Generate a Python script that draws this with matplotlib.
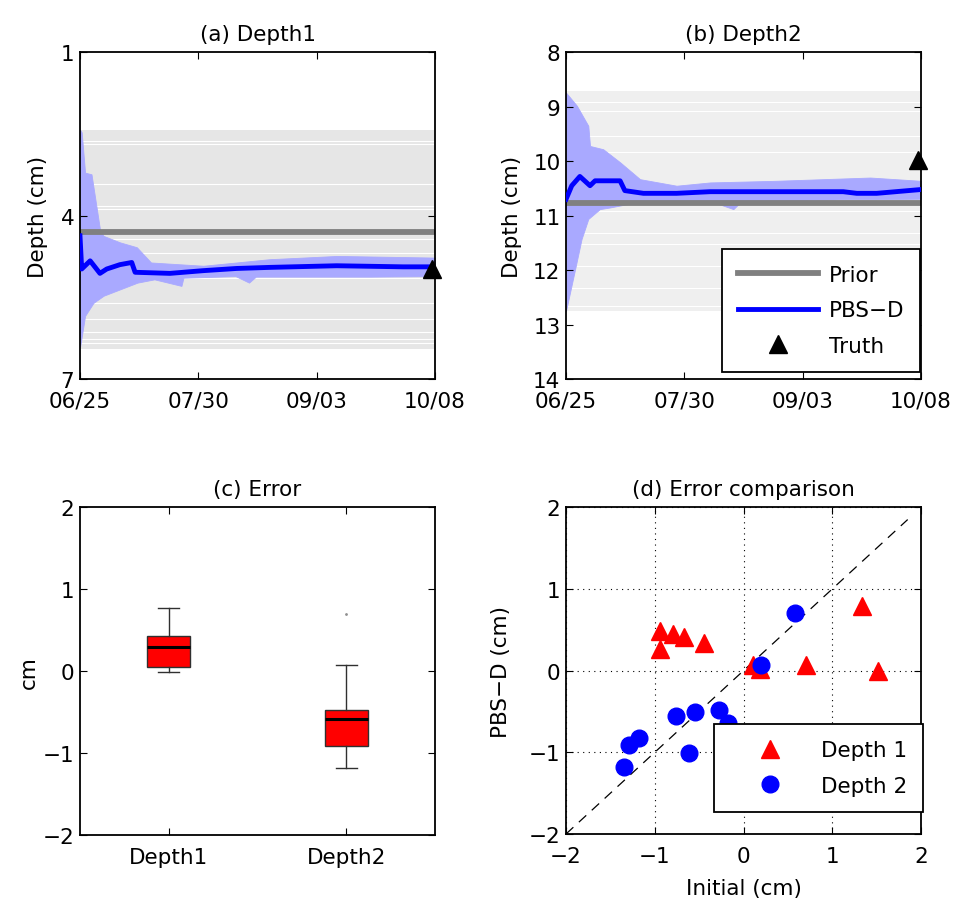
import matplotlib
matplotlib.use("Agg")
import matplotlib.pyplot as plt
import numpy as np

plt.rcParams["font.family"] = ["DejaVu Sans"]

# ---- time axis (days since 06/25) ----
date_ticks = [0, 35, 70, 105]
date_labels = ["06/25", "07/30", "09/03", "10/08"]

# ---- (a) Depth1 ----
a_prior = 4.30
a_prior_range = [2.42, 6.44]
a_prior_gaps = [2.62, 2.69, 3.42, 3.82, 3.88, 4.42, 4.68, 5.15, 5.60, 5.90, 6.14, 6.26, 6.33]
a_mean_day = [0, 0.5, 1.0, 3.0, 5.9, 7.9, 11.8, 15.3, 16.3, 26.6, 36.5, 46.3, 56.2, 75.9, 95.6, 105]
a_mean = [4.37, 4.98, 4.95, 4.83, 5.06, 4.98, 4.90, 4.86, 5.04, 5.06, 5.01, 4.97, 4.95, 4.92, 4.94, 4.94]
a_up_day = [0, 0.5, 1.5, 3.4, 5.9, 6.9, 11.8, 16.8, 21, 36.5, 56, 76, 105]
a_up = [2.42, 2.47, 3.21, 3.24, 4.25, 4.37, 4.49, 4.58, 4.86, 4.92, 4.80, 4.74, 4.77]
a_lo_day = [0, 1.5, 4, 7, 12, 17, 22, 30, 30.6, 46, 50, 52, 66, 86, 105]
a_lo = [6.42, 5.84, 5.60, 5.47, 5.35, 5.23, 5.17, 5.29, 5.14, 5.11, 5.23, 5.12, 5.12, 5.12, 5.11]
a_truth_day, a_truth = 104, 4.98

# ---- (b) Depth2 ----
b_prior = 10.77
b_prior_range = [8.71, 12.75]
b_prior_gaps = [8.92, 9.07, 9.53, 9.84, 10.91, 11.31, 11.52, 11.92, 12.32, 12.66]
b_mean_day = [0, 1.7, 4.1, 7.1, 8.6, 13, 16, 17.4, 22.9, 32.7, 42.6, 62.3, 82, 86, 91.9, 105]
b_mean = [10.70, 10.45, 10.28, 10.45, 10.36, 10.36, 10.36, 10.54, 10.59, 10.59, 10.56, 10.56, 10.56, 10.59, 10.59, 10.52]
b_up_day = [0, 3.2, 6.6, 7.1, 11, 16, 21.9, 32.7, 42.6, 62, 90, 105]
b_up = [8.74, 8.98, 9.35, 9.72, 9.78, 10.02, 10.33, 10.45, 10.39, 10.36, 10.30, 10.36]
b_lo_day = [0, 2.7, 4.6, 6.6, 10, 13, 22.9, 42.6, 49.5, 52, 82, 105]
b_lo = [12.75, 11.98, 11.43, 11.06, 10.88, 10.85, 10.73, 10.73, 10.88, 10.73, 10.70, 10.69]
b_truth_day, b_truth = 104, 9.97

# ---- (c) Error boxplot ----
box_names = ["Depth1", "Depth2"]
box_whislo = [-0.01, -1.18]
box_q1 = [0.05, -0.91]
box_med = [0.29, -0.59]
box_q3 = [0.43, -0.48]
box_whishi = [0.77, 0.07]
box_fliers = [[], [0.70]]

# ---- (d) Error comparison ----
d1_init = [-0.94, -0.79, -0.67, -0.44, -0.94, 0.11, 0.19, 0.70, 1.33, 1.52]
d1_pbs = [0.48, 0.45, 0.41, 0.34, 0.27, 0.07, 0.02, 0.07, 0.79, 0.00]
d2_init = [0.58, 0.20, -0.76, -0.55, -0.28, -0.17, -0.61, -1.18, -1.29, -1.35]
d2_pbs = [0.71, 0.07, -0.56, -0.51, -0.48, -0.64, -1.01, -0.82, -0.91, -1.18]
one_to_one = [-2, 1.85]

ENS = "#a9a9ff"
FS = 15.5

fig = plt.figure(figsize=(9.56, 9.04), dpi=100)
W, H = 956, 904


def add_ax(left, top, right, bottom):
    return fig.add_axes([left / W, 1 - bottom / H, (right - left) / W, (bottom - top) / H])


def style(ax):
    ax.tick_params(direction="in", top=True, right=True, labelsize=FS,
                   length=5, width=0.8)
    ax.tick_params(axis="x", pad=8.5)
    ax.tick_params(axis="y", pad=4)
    for s in ax.spines.values():
        s.set_linewidth(1.3)


def matlab_legend(ax, anchor):
    leg = ax.legend(loc="lower right", bbox_to_anchor=anchor, fontsize=FS,
                    frameon=True, fancybox=False, edgecolor="black", handlelength=3.7,
                    borderpad=0.75, labelspacing=0.72, handletextpad=0.5,
                    borderaxespad=0, framealpha=1)
    leg.get_frame().set_linewidth(1.3)
    return leg


def depth_panel(ax, prior, prange, gaps, up_day, up, lo_day, lo, mday, mean,
                tday, truth, ylim, yticks, title, band_color):
    ax.fill_between([0, 105], prange[0], prange[1], color=band_color, lw=0, zorder=0)
    for g in gaps:
        ax.axhline(g, color="white", lw=0.8, zorder=0.5)
    days = np.union1d(up_day, lo_day)
    ax.fill_between(days, np.interp(days, up_day, up), np.interp(days, lo_day, lo),
                    color=ENS, lw=0.6, edgecolor=ENS, zorder=1)
    ax.axhline(prior, color="#808080", lw=4.2, zorder=2, label="Prior")
    ax.plot(mday, mean, color="#0000ff", lw=3.5, zorder=3, label="PBS\u2212D")
    ax.plot([tday], [truth], "^", color="black", ms=13, zorder=4,
            clip_on=False, label="Truth", lw=0)
    ax.set_xlim(0, 105)
    ax.set_ylim(ylim[1], ylim[0])
    ax.set_yticks(yticks)
    ax.set_xticks(date_ticks)
    ax.set_xticklabels(date_labels)
    ax.set_ylabel("Depth (cm)", fontsize=FS)
    ax.set_title(title, fontsize=FS, pad=9)
    style(ax)


ax_a = add_ax(80, 53.3, 435, 380)
depth_panel(ax_a, a_prior, a_prior_range, a_prior_gaps, a_up_day, a_up, a_lo_day, a_lo,
            a_mean_day, a_mean, a_truth_day, a_truth, (1, 7), [1, 4, 7],
            "(a) Depth1", "#e6e6e6")
ax_a.yaxis.set_label_coords(-0.09, 0.5)

ax_b = add_ax(566, 53.3, 921, 380)
depth_panel(ax_b, b_prior, b_prior_range, b_prior_gaps, b_up_day, b_up, b_lo_day, b_lo,
            b_mean_day, b_mean, b_truth_day, b_truth, (8, 14), [8, 9, 10, 11, 12, 13, 14],
            "(b) Depth2", "#efefef")
ax_b.yaxis.set_label_coords(-0.125, 0.5)
matlab_legend(ax_b, (0.998, 0.022))

# (c)
ax_c = add_ax(80, 508.3, 435, 836)
stats = []
for i in range(2):
    stats.append(dict(label=box_names[i], whislo=box_whislo[i], q1=box_q1[i],
                      med=box_med[i], q3=box_q3[i], whishi=box_whishi[i],
                      fliers=box_fliers[i]))
ax_c.bxp(stats, positions=[1, 2], widths=0.24, patch_artist=True,
         boxprops=dict(facecolor="#ff0000", edgecolor="#303030", lw=1.0),
         medianprops=dict(color="black", lw=2.2),
         whiskerprops=dict(color="#303030", lw=1.0),
         capprops=dict(color="#303030", lw=1.0), capwidths=0.12,
         flierprops=dict(marker=".", ms=2, mfc="#909090", mec="#909090"))
ax_c.set_xlim(0.5, 2.5)
ax_c.set_ylim(-2, 2)
ax_c.set_yticks([-2, -1, 0, 1, 2])
ax_c.set_ylabel("cm", fontsize=FS)
ax_c.yaxis.set_label_coords(-0.115, 0.5)
ax_c.set_title("(c) Error", fontsize=FS, pad=9)
style(ax_c)

# (d)
ax_d = add_ax(566, 508.3, 921, 835)
ax_d.plot(one_to_one, one_to_one, "--", color="black", lw=0.9, dashes=(8, 6), zorder=1)
ax_d.plot(d1_init, d1_pbs, "^", color="#ff0000", ms=13, lw=0, label="Depth 1", zorder=3)
ax_d.plot(d2_init, d2_pbs, "o", color="#0000ff", ms=12, lw=0, label="Depth 2", zorder=3)
ax_d.set_xlim(-2, 2)
ax_d.set_ylim(-2, 2)
ax_d.set_xticks([-2, -1, 0, 1, 2])
ax_d.set_yticks([-2, -1, 0, 1, 2])
ax_d.grid(True, linestyle=(0, (1, 4)), color="black", lw=0.8)
ax_d.set_axisbelow(True)
ax_d.set_xlabel("Initial (cm)", fontsize=FS, labelpad=9)
ax_d.set_ylabel("PBS\u2212D (cm)", fontsize=FS)
ax_d.yaxis.set_label_coords(-0.155, 0.5)
ax_d.set_title("(d) Error comparison", fontsize=FS, pad=9)
style(ax_d)
matlab_legend(ax_d, (1.006, 0.067))

fig.savefig("out.png", dpi=100)
